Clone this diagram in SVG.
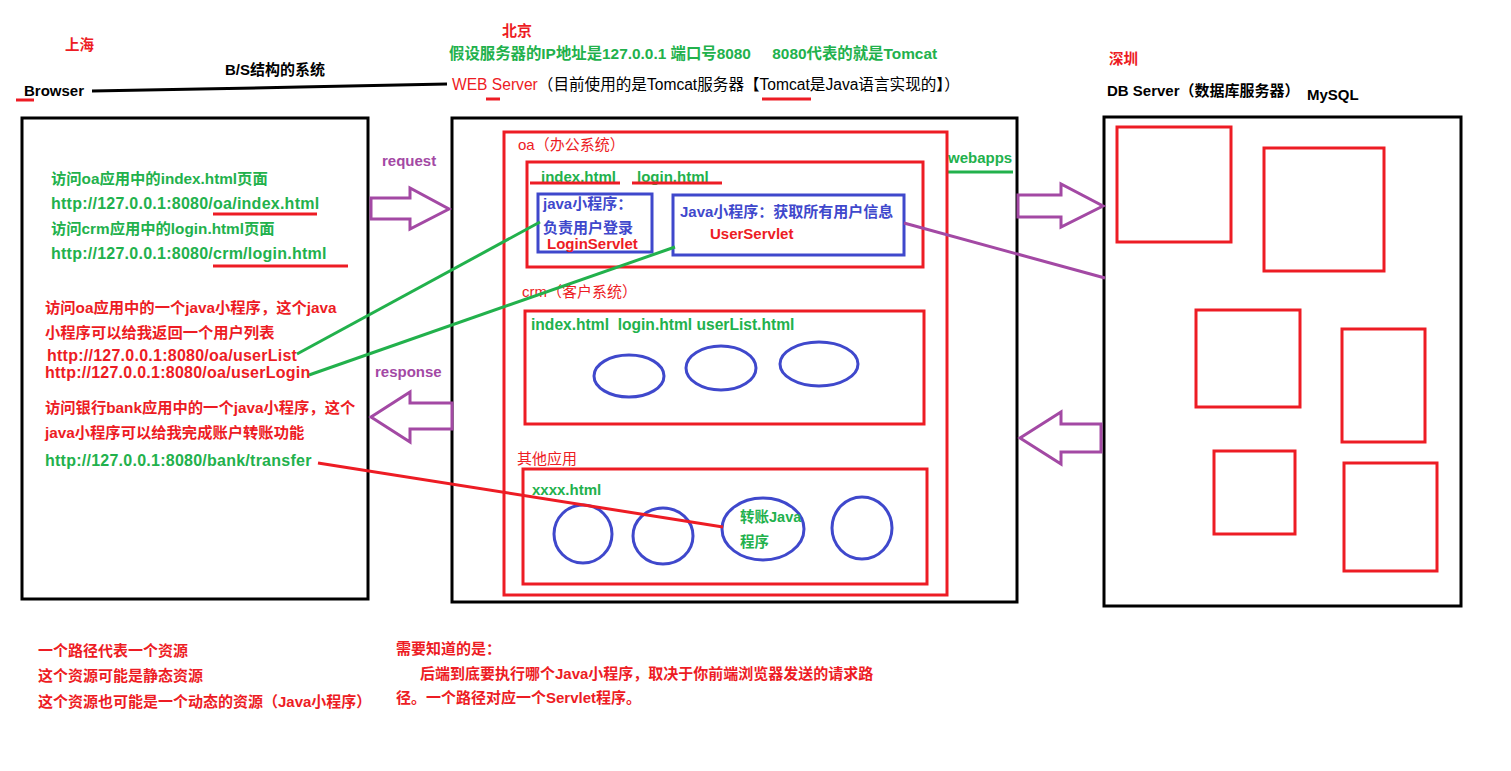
<svg xmlns="http://www.w3.org/2000/svg" width="1511" height="771" viewBox="0 0 1511 771">
<style>
text{font-family:"Liberation Sans","Noto Sans CJK SC",sans-serif;font-size:15px}
.b{font-weight:bold}
.g{fill:#22b14c}.r{fill:#ed1c24}.p{fill:#a349a4}.bl{fill:#3f48cc}.k{fill:#000}
.box{fill:none;stroke:#000;stroke-width:3}
.rbox{fill:none;stroke:#ed1c24;stroke-width:3}
.bbox{fill:none;stroke:#3f48cc;stroke-width:3}
.arrow{fill:#fff;stroke:#a349a4;stroke-width:3;stroke-linejoin:miter}
.ul-r{stroke:#ed1c24;stroke-width:3}
.ul-g{stroke:#22b14c;stroke-width:3}
.sm{font-size:14.5px}
.md{font-size:15.3px}
.url{font-size:16px;letter-spacing:0.25px}
.note{font-size:15px}
</style>
<rect width="1511" height="771" fill="#fff"/>

<!-- headings -->
<g id="headings">
<text x="65" y="50" class="b r sm">上海</text>
<text x="225" y="75" class="b k">B/S结构的系统</text>
<text x="24" y="96" class="b k">Browser</text>
<line x1="16" y1="100" x2="34" y2="100" class="ul-r"/>
<text x="502" y="36" class="b r">北京</text>
<text x="449" y="59" class="b g" style="font-size:15.4px" xml:space="preserve">假设服务器的IP地址是127.0.0.1 端口号8080     8080代表的就是Tomcat</text>
<text x="452" y="90" style="font-size:15.6px"><tspan class="r">WEB Server</tspan><tspan class="k">（目前使用的是Tomcat服务器【Tomcat是Java语言实现的】）</tspan></text>
<line x1="486" y1="99" x2="500" y2="99" class="ul-r"/>
<line x1="762" y1="99" x2="811" y2="99" class="ul-r"/>
<text x="1109" y="64" class="b r sm">深圳</text>
<text x="1107" y="96" class="b k">DB Server（数据库服务器）</text>
<text x="1307" y="100" class="b k">MySQL</text>
</g>

<!-- Browser -->
<g id="browser">
<rect x="22" y="118" width="346" height="481" class="box"/>
<text x="51" y="184" class="b g md">访问oa应用中的index.html页面</text>
<text x="51" y="209" class="b g url">http://127.0.0.1:8080/oa/index.html</text>
<line x1="213" y1="214" x2="317" y2="214" class="ul-r"/>
<text x="51" y="234" class="b g md">访问crm应用中的login.html页面</text>
<text x="51" y="259" class="b g url">http://127.0.0.1:8080/crm/login.html</text>
<line x1="213" y1="266" x2="348" y2="266" class="ul-r"/>
<text x="45" y="313" class="b r md">访问oa应用中的一个java小程序，这个java</text>
<text x="45" y="338" class="b r md">小程序可以给我返回一个用户列表</text>
<text x="47" y="361" class="b r url">http://127.0.0.1:8080/oa/userList</text>
<text x="45" y="378" class="b r url">http://127.0.0.1:8080/oa/userLogin</text>
<text x="45" y="413" class="b r md">访问银行bank应用中的一个java小程序，这个</text>
<text x="45" y="438" class="b r md">java小程序可以给我完成账户转账功能</text>
<text x="45" y="466" class="b g url">http://127.0.0.1:8080/bank/transfer</text>
</g>

<!-- Web server -->
<g id="web-server">
<rect x="452" y="118" width="565" height="484" class="box"/>
<text x="948" y="163" class="b g">webapps</text>
<line x1="948" y1="172" x2="1013" y2="172" class="ul-g"/>
</g>

<g id="app-oa">
<rect x="504" y="132" width="443" height="463" class="rbox"/>
<text x="518" y="150" class="r">oa（办公系统）</text>
<rect x="527" y="162" width="396" height="105" class="rbox"/>
<text x="541" y="182" class="b g">index.html</text>
<line x1="530" y1="183" x2="620" y2="183" class="ul-r"/>
<text x="637" y="182" class="b g">login.html</text>
<line x1="632" y1="183" x2="722" y2="183" class="ul-r"/>
</g>

<g id="login-servlet">
<rect x="538" y="194" width="114" height="58" class="bbox"/>
<text x="543" y="209" class="b bl">java小程序：</text>
<text x="543" y="233" class="b bl">负责用户登录</text>
<text x="547" y="249" class="b r">LoginServlet</text>
</g>

<g id="user-servlet">
<rect x="673" y="195" width="231" height="60" class="bbox"/>
<text x="680" y="217" class="b bl">Java小程序：获取所有用户信息</text>
<text x="710" y="239" class="b r">UserServlet</text>
</g>

<g id="app-crm">
<text x="522" y="297" class="r">crm（客户系统）</text>
<rect x="525" y="311" width="399" height="113" class="rbox"/>
<text x="531" y="330" class="b g" style="font-size:15.6px" xml:space="preserve">index.html  login.html userList.html</text>
<ellipse cx="629" cy="376" rx="35" ry="21" class="bbox"/>
<ellipse cx="721" cy="368" rx="35" ry="22" class="bbox"/>
<ellipse cx="819" cy="364" rx="39" ry="22" class="bbox"/>
</g>

<g id="app-other">
<text x="517" y="464" class="r">其他应用</text>
<rect x="523" y="469" width="404" height="115" class="rbox"/>
<text x="532" y="495" class="b g">xxxx.html</text>
<ellipse cx="583" cy="534" rx="29" ry="29" class="bbox"/>
<ellipse cx="663" cy="536" rx="30" ry="28" class="bbox"/>
<ellipse cx="763" cy="529" rx="41" ry="31" class="bbox"/>
<text x="740" y="522" class="b g sm">转账Java</text>
<text x="740" y="547" class="b g sm">程序</text>
<ellipse cx="862" cy="528" rx="30" ry="31" class="bbox"/>
</g>

<!-- DB server -->
<g id="db-server">
<rect x="1104" y="117" width="357" height="489" class="box"/>
<rect x="1117" y="127" width="114" height="115" class="rbox"/>
<rect x="1264" y="148" width="120" height="123" class="rbox"/>
<rect x="1196" y="310" width="104" height="97" class="rbox"/>
<rect x="1342" y="329" width="83" height="113" class="rbox"/>
<rect x="1214" y="451" width="81" height="83" class="rbox"/>
<rect x="1344" y="463" width="93" height="108" class="rbox"/>
</g>

<!-- connectors -->
<g id="connectors">
<path d="M92 91 L200 89 L300 87 L447 84" fill="none" stroke="#000" stroke-width="3"/>
<text x="382" y="166" class="b p">request</text>
<polygon points="371,198 410,198 410,188 449,209 410,229 410,219 371,219" class="arrow"/>
<text x="375" y="377" class="b p">response</text>
<polygon points="452,403 410,403 410,392 371,417 410,442 410,429 452,429" class="arrow"/>
<polygon points="1018,195 1061,195 1061,184 1103,206 1061,227 1061,217 1018,217" class="arrow"/>
<polygon points="1101,424 1061,424 1061,412 1020,438 1061,464 1061,452 1101,452" class="arrow"/>
<line x1="297" y1="354" x2="540" y2="222" stroke="#22b14c" stroke-width="3"/>
<line x1="309" y1="375" x2="675" y2="247" stroke="#22b14c" stroke-width="3"/>
<line x1="904" y1="223" x2="1105" y2="278" stroke="#a349a4" stroke-width="3"/>
<line x1="318" y1="463" x2="723" y2="527" stroke="#ed1c24" stroke-width="3"/>
</g>

<!-- notes -->
<g id="notes">
<text x="38" y="656" class="b r note">一个路径代表一个资源</text>
<text x="38" y="681" class="b r note">这个资源可能是静态资源</text>
<text x="38" y="707" class="b r note">这个资源也可能是一个动态的资源（Java小程序）</text>
<text x="396" y="654" class="b r note">需要知道的是：</text>
<text x="420" y="679" class="b r note">后端到底要执行哪个Java小程序，取决于你前端浏览器发送的请求路</text>
<text x="396" y="703" class="b r note">径。一个路径对应一个Servlet程序。</text>
</g>
</svg>
